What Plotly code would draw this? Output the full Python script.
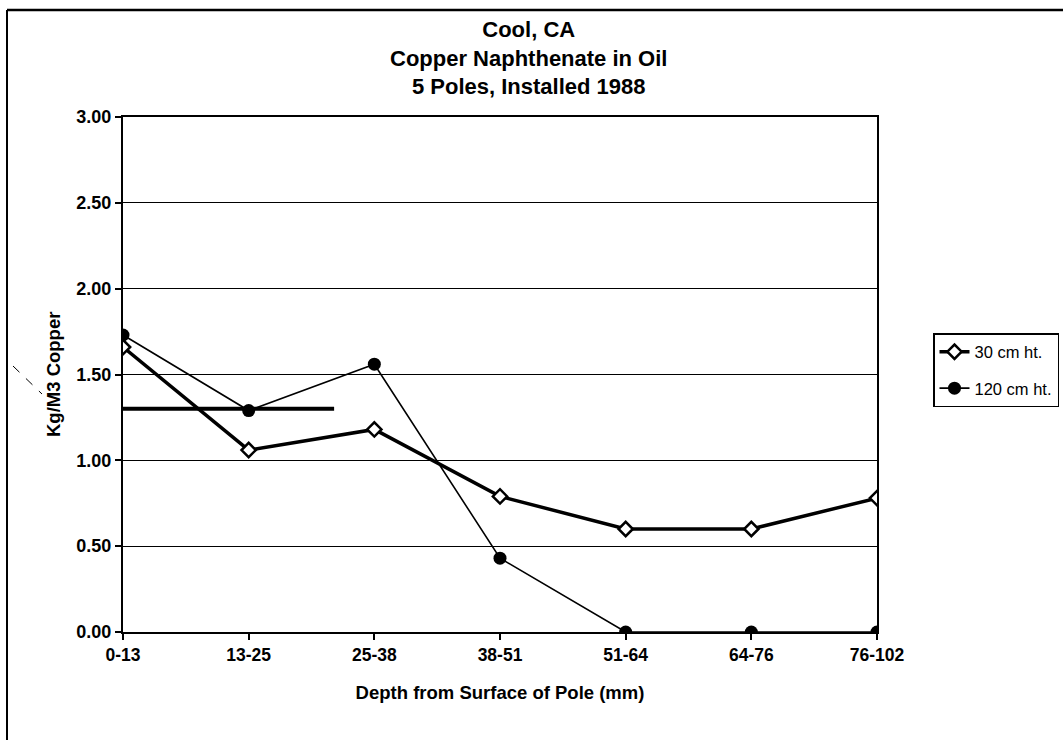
import plotly.graph_objects as go

# Depth intervals sampled from each pole (mm)
depth_bins = ["0-13", "13-25", "25-38", "38-51", "51-64", "64-76", "76-102"]

# Copper retention, kg/m3
copper_30cm = [1.66, 1.06, 1.18, 0.79, 0.60, 0.60, 0.78]
copper_120cm = [1.73, 1.29, 1.56, 0.43, 0.00, 0.00, 0.00]

# Heavy horizontal rule drawn across the first intervals
rule_level = 1.30
rule_span = [0.0, 1.68]

y_ticks = [0.0, 0.5, 1.0, 1.5, 2.0, 2.5, 3.0]
y_tick_text = ["0.00", "0.50", "1.00", "1.50", "2.00", "2.50", "3.00"]

title_lines = ["Cool, CA", "Copper Naphthenate in Oil", "5 Poles, Installed 1988"]

x_pos = list(range(len(depth_bins)))

BOLD = "Liberation Sans, Arial, sans-serif"
NARROW = "Liberation Sans Narrow, Arial Narrow, Liberation Sans, sans-serif"

fig = go.Figure()

fig.add_trace(go.Scatter(
    x=rule_span, y=[rule_level, rule_level], mode="lines",
    line=dict(color="black", width=4), showlegend=False, hoverinfo="skip",
))

fig.add_trace(go.Scatter(
    x=x_pos, y=copper_30cm, name="30 cm ht.", mode="lines+markers",
    line=dict(color="black", width=3.5),
    marker=dict(symbol="diamond", size=11, color="white",
                line=dict(color="black", width=2.5)),
    legendgroup="a",
))

fig.add_trace(go.Scatter(
    x=x_pos, y=copper_120cm, name="120 cm ht.", mode="lines+markers",
    line=dict(color="black", width=1.6),
    marker=dict(symbol="circle", size=13, color="black"),
    legendgroup="b",
))

# Page geometry (pixels) used to place items outside the plotting area
W, H = 1063, 740
L, R, T, B = 123, 877, 117, 632


def px(xp):
    return (xp - L) / (R - L)


def py(yp):
    return (B - yp) / (B - T)


shapes = [
    # outer frame around the whole chart
    dict(type="line", xref="paper", yref="paper",
         x0=px(7), y0=py(10), x1=px(W + 5), y1=py(10),
         line=dict(color="black", width=2.5)),
    dict(type="line", xref="paper", yref="paper",
         x0=px(7), y0=py(10), x1=px(7), y1=py(H + 5),
         line=dict(color="black", width=2)),
    # stray pen stroke on the left margin
    dict(type="line", xref="paper", yref="paper",
         x0=px(13), y0=py(366), x1=px(42), y1=py(394),
         line=dict(color="black", width=1, dash="dash")),
]

annotations = [
    # three-line chart title
    dict(text="<b>" + "<br>".join(title_lines) + "</b>",
         xref="paper", yref="paper",
         x=px(528), y=py(58), xanchor="center", yanchor="middle",
         showarrow=False, font=dict(family=BOLD, size=22, color="black")),
    # vertical axis title
    dict(text="<b>Kg/M3 Copper</b>", xref="paper", yref="paper",
         x=px(53), y=py(375), xanchor="center", yanchor="middle",
         textangle=-90, showarrow=False,
         font=dict(family=BOLD, size=18.5, color="black")),
]

fig.update_layout(
    width=W, height=H,
    margin=dict(l=L, r=W - R, t=T, b=H - B, pad=0, autoexpand=False),
    paper_bgcolor="white", plot_bgcolor="white",
    font=dict(family=BOLD, color="black"),
    showlegend=True,
    legend=dict(
        x=px(933), y=py(333), xanchor="left", yanchor="top",
        bgcolor="white", bordercolor="black", borderwidth=1.5,
        font=dict(family=NARROW, size=16.5, color="black"),
        traceorder="grouped", tracegroupgap=12,
        itemwidth=30,
    ),
    shapes=shapes,
    annotations=annotations,
)

fig.update_xaxes(
    range=[0, len(depth_bins) - 1],
    tickmode="array", tickvals=x_pos,
    ticktext=[f"<b>{t}</b>" for t in depth_bins],
    tickfont=dict(family=NARROW, size=17.5, color="black"),
    ticks="outside", ticklen=6, tickwidth=1.5, tickcolor="black",
    showline=True, linecolor="black", linewidth=2, mirror=True,
    showgrid=False, zeroline=False,
    title=dict(text="<b>Depth from Surface of Pole (mm)</b>",
               font=dict(family=NARROW, size=18.5, color="black"), standoff=22),
)

fig.update_yaxes(
    range=[0, 3], tickmode="array", tickvals=y_ticks,
    ticktext=[f"<b>{t}</b>" for t in y_tick_text],
    tickfont=dict(family=BOLD, size=18, color="black"),
    ticks="outside", ticklen=6, tickwidth=1.5, tickcolor="black",
    showline=True, linecolor="black", linewidth=2, mirror=True,
    showgrid=True, gridcolor="black", gridwidth=1, zeroline=False,
)

fig.write_html("out.html")
